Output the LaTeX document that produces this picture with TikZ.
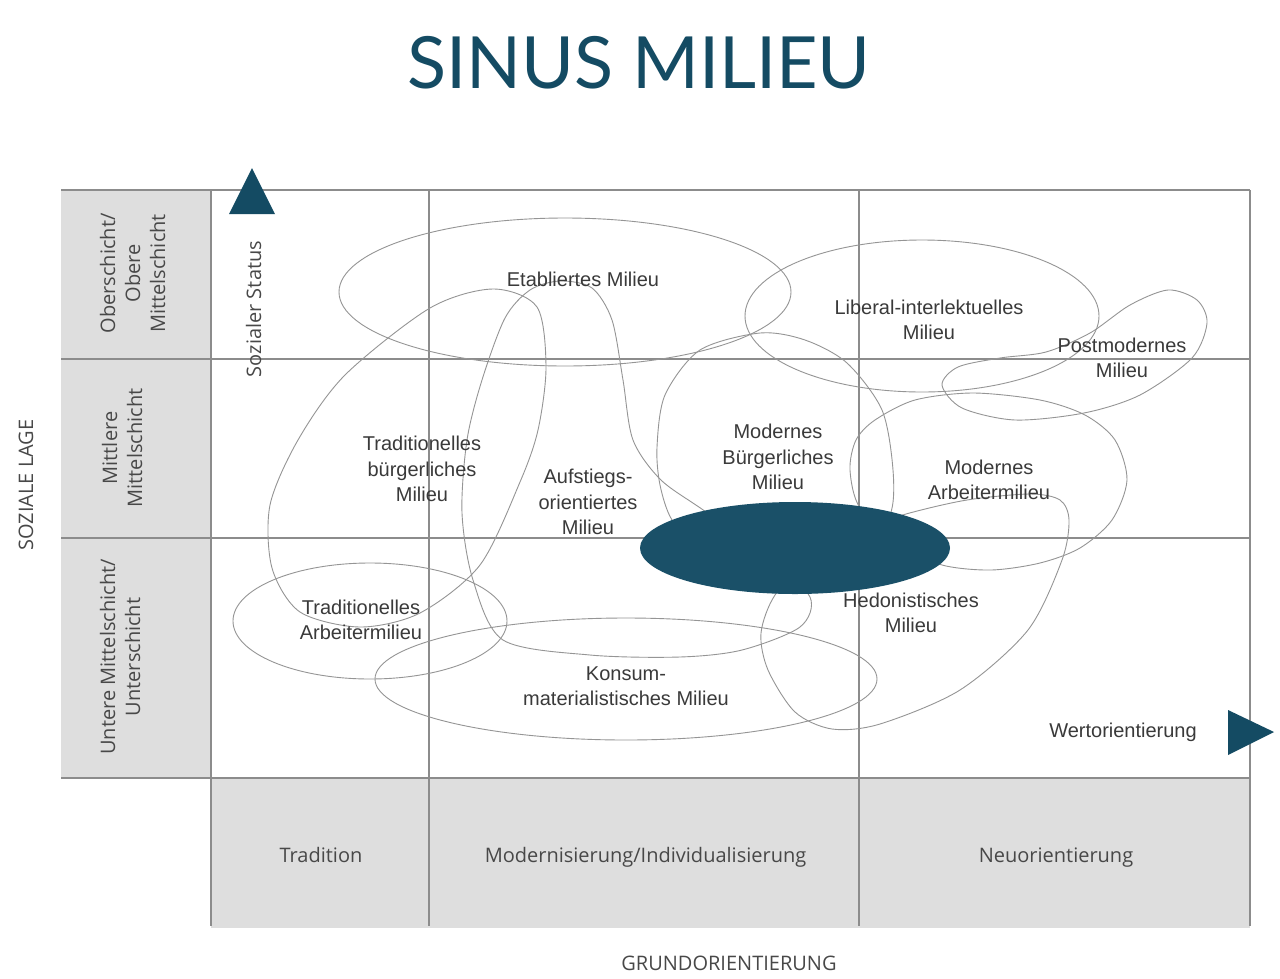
\documentclass[tikz,border=0pt]{standalone}
\usepackage{fontspec}
\setmainfont{Liberation Sans}
\newfontfamily\titlefont{Lato}
\newfontfamily\osfont{Open Sans}
\definecolor{sinusblue}{HTML}{1A5068}
\definecolor{titleblue}{HTML}{144B63}
\definecolor{cellgray}{HTML}{DEDEDE}
\definecolor{gridgray}{HTML}{8C8C8C}
\definecolor{curvegray}{HTML}{959595}
\definecolor{labeltext}{HTML}{3A3A3A}
\definecolor{axistext}{HTML}{484848}
\begin{document}
\begin{tikzpicture}[x=1pt,y=-1pt,
  gridline/.style={draw=gridgray,line width=1.2pt},
  milieu/.style={draw=curvegray,line width=0.9pt},
  mlabel/.style={inner sep=0pt,align=center,text=labeltext,font=\fontsize{20}{25.5}\selectfont},
  axlabel/.style={inner sep=0pt,align=center,text=axistext,font=\osfont\fontsize{20}{25}\selectfont},
  marker/.style={fill=titleblue}]
\useasboundingbox (0,0) rectangle (1280,978);
\fill[white] (0,0) rectangle (1280,978);
% gray header cells
\fill[cellgray] (61,190) rectangle (211,778);
\fill[cellgray] (211,778) rectangle (1250,928);
% grid
\draw[gridline] (61,190) -- (1250,190);
\draw[gridline] (61,359) -- (1250,359);
\draw[gridline] (61,538) -- (1250,538);
\draw[gridline] (61,778) -- (1250,778);
\draw[gridline] (211,190) -- (211,926);
\draw[gridline] (429,190) -- (429,926);
\draw[gridline] (859,190) -- (859,926);
\draw[gridline] (1250,190) -- (1250,926);
% axis markers
\fill[marker] (229,214) -- (275,214) -- (252,168) -- cycle;
\fill[marker] (1228,710) -- (1228,755) -- (1274,732) -- cycle;
% milieu shapes
\draw[milieu] (565,292) ellipse [x radius=226, y radius=74];
\draw[milieu] (922,316) ellipse [x radius=177, y radius=76];
\draw[milieu] (370,621) ellipse [x radius=137, y radius=58];
\draw[milieu] (626,679) ellipse [x radius=251, y radius=61];
\draw[milieu] plot[smooth cycle] coordinates {(493,289) (537,307) (546,367) (538,430) (520,482) (480,565) (420,613) (360,627) (300,612) (272,568) (270,505) (298,440) (345,375) (430,308)};
\draw[milieu] plot[smooth cycle] coordinates {(482,380) (505,318) (530,290) (560,281) (592,288) (612,320) (623,380) (633,440) (661,480) (706,512) (770,560) (810,597) (800,627) (742,650) (680,657) (590,655) (503,640) (473,580) (462,513) (467,440)};
\draw[milieu] plot[smooth cycle] coordinates {(760,333) (805,340) (847,363) (882,410) (893,470) (890,515) (860,550) (780,565) (700,548) (672,520) (660,485) (657,447) (665,395) (700,350)};
\draw[milieu] plot[smooth cycle] coordinates {(906,514) (967,500) (1030,494) (1060,500) (1069,520) (1062,560) (1028,630) (960,690) (880,724) (832,729) (795,712) (768,670) (761,633) (775,595) (810,560) (860,530)};
\draw[milieu] plot[smooth cycle] coordinates {(860,508) (850,470) (856,440) (875,420) (915,400) (973,393) (1040,400) (1085,415) (1115,440) (1127,480) (1112,520) (1080,548) (1040,563) (991,570) (942,565) (900,545)};
\draw[milieu] plot[smooth cycle] coordinates {(1168,290) (1197,300) (1207,323) (1192,358) (1140,395) (1084,413) (1015,420) (962,408) (942,385) (958,367) (1000,358) (1046,352) (1090,333) (1130,305)};
% central blue ellipse
\fill[sinusblue] (795,548) ellipse [x radius=155, y radius=46];
% title
\node[inner sep=0pt, anchor=base, text=titleblue, font=\titlefont\fontsize{72}{76}\selectfont] (title) at (639,88) {SINUS MILIEU};
% milieu labels
\node[mlabel] (etab) at (583,279) {Etabliertes Milieu};
\node[mlabel] (lib) at (929,320) {Liberal-interlektuelles\\Milieu};
\node[mlabel] (post) at (1122,358) {Postmodernes\\Milieu};
\node[mlabel] (tradb) at (422,469) {Traditionelles\\bürgerliches\\Milieu};
\node[mlabel] (aufst) at (588,502) {Aufstiegs-\\orientiertes\\Milieu};
\node[mlabel] (modb) at (778,457) {Modernes\\Bürgerliches\\Milieu};
\node[mlabel] (moda) at (989,480) {Modernes\\Arbeitermilieu};
\node[mlabel] (trada) at (361,620) {Traditionelles\\Arbeitermilieu};
\node[mlabel] (hedo) at (911,613) {Hedonistisches\\Milieu};
\node[mlabel] (konsum) at (626,686) {Konsum-\\materialistisches Milieu};
\node[mlabel, anchor=base] (wert) at (1123,737) {Wertorientierung};
% axis labels
\node[axlabel, rotate=90] (ober) at (132.5,273.5) {Oberschicht/\\Obere\\Mittelschicht};
\node[axlabel, rotate=90] (mittl) at (122,448) {Mittlere\\Mittelschicht};
\node[axlabel, rotate=90] (unter) at (120,657) {Untere Mittelschicht/\\Unterschicht};
\node[axlabel, anchor=base] (tradi) at (321,862) {Tradition};
\node[axlabel, anchor=base] (modi) at (645.5,862) {Modernisierung/Individualisierung};
\node[axlabel, anchor=base] (neuo) at (1056,862) {Neuorientierung};
\node[axlabel, rotate=90, anchor=base] (status) at (261,309) {Sozialer Status};
\node[axlabel, rotate=90, anchor=base] (lage) at (33,485) {SOZIALE LAGE};
\node[axlabel, anchor=base] (grund) at (729,970) {GRUNDORIENTIERUNG};
\end{tikzpicture}
\end{document}
